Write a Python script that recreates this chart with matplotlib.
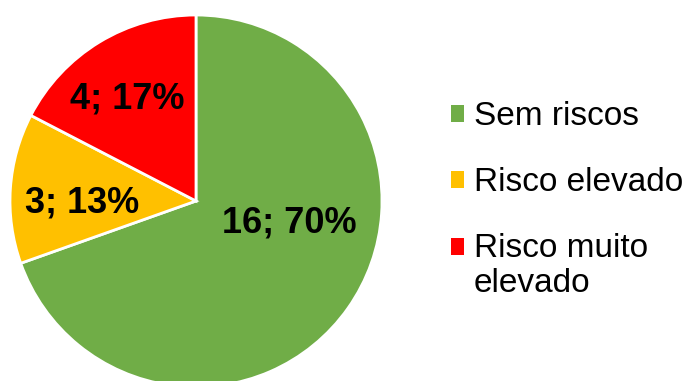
import matplotlib
matplotlib.use("Agg")
import matplotlib.pyplot as plt

plt.rcParams['font.family'] = ['Liberation Sans', 'DejaVu Sans']

categories = ["Sem riscos", "Risco elevado", "Risco muito\nelevado"]
counts = [16, 3, 4]
colors = ["#70AD47", "#FFC000", "#FF0000"]

total = sum(counts)
labels = ["%d; %d%%" % (c, round(100 * c / total)) for c in counts]

fig = plt.figure(figsize=(6.9, 3.81), dpi=100)
# pie axes placed in pixels: centre ~(196, 201), radius ~186
r = 186
cx, cy = 196, 201
ax = fig.add_axes([(cx - r) / 690, (381 - cy - r) / 381, 2 * r / 690, 2 * r / 381])

wedges, _ = ax.pie(counts, colors=colors, startangle=90, counterclock=False,
                   radius=1, wedgeprops=dict(edgecolor="white", linewidth=2))

# data labels
label_pos = [(0.50, -0.12), (-0.61, -0.01), (-0.37, 0.55)]
for lab, (x, y) in zip(labels, label_pos):
    ax.text(x, y, lab, ha="center", va="center", fontsize=26, fontweight="bold", color="black")

ax.set_xlim(-1, 1)
ax.set_ylim(-1, 1)
ax.axis("off")

leg = fig.legend(wedges, categories, loc="upper left", bbox_to_anchor=(451 / 690, 1 - 101 / 381),
                 frameon=False, fontsize=24, handlelength=0.4, handleheight=0.4,
                 handletextpad=0.28, labelspacing=1.05, borderpad=0, borderaxespad=0)
for t in leg.get_texts():
    t.set_linespacing(1.16)
for h in leg.legend_handles:
    h.set_edgecolor("none")
# marker of the two-line entry sits next to its first line
red = leg.legend_handles[2]
red.set_y(red.get_y() + 14)

fig.savefig("out.png", dpi=100)
